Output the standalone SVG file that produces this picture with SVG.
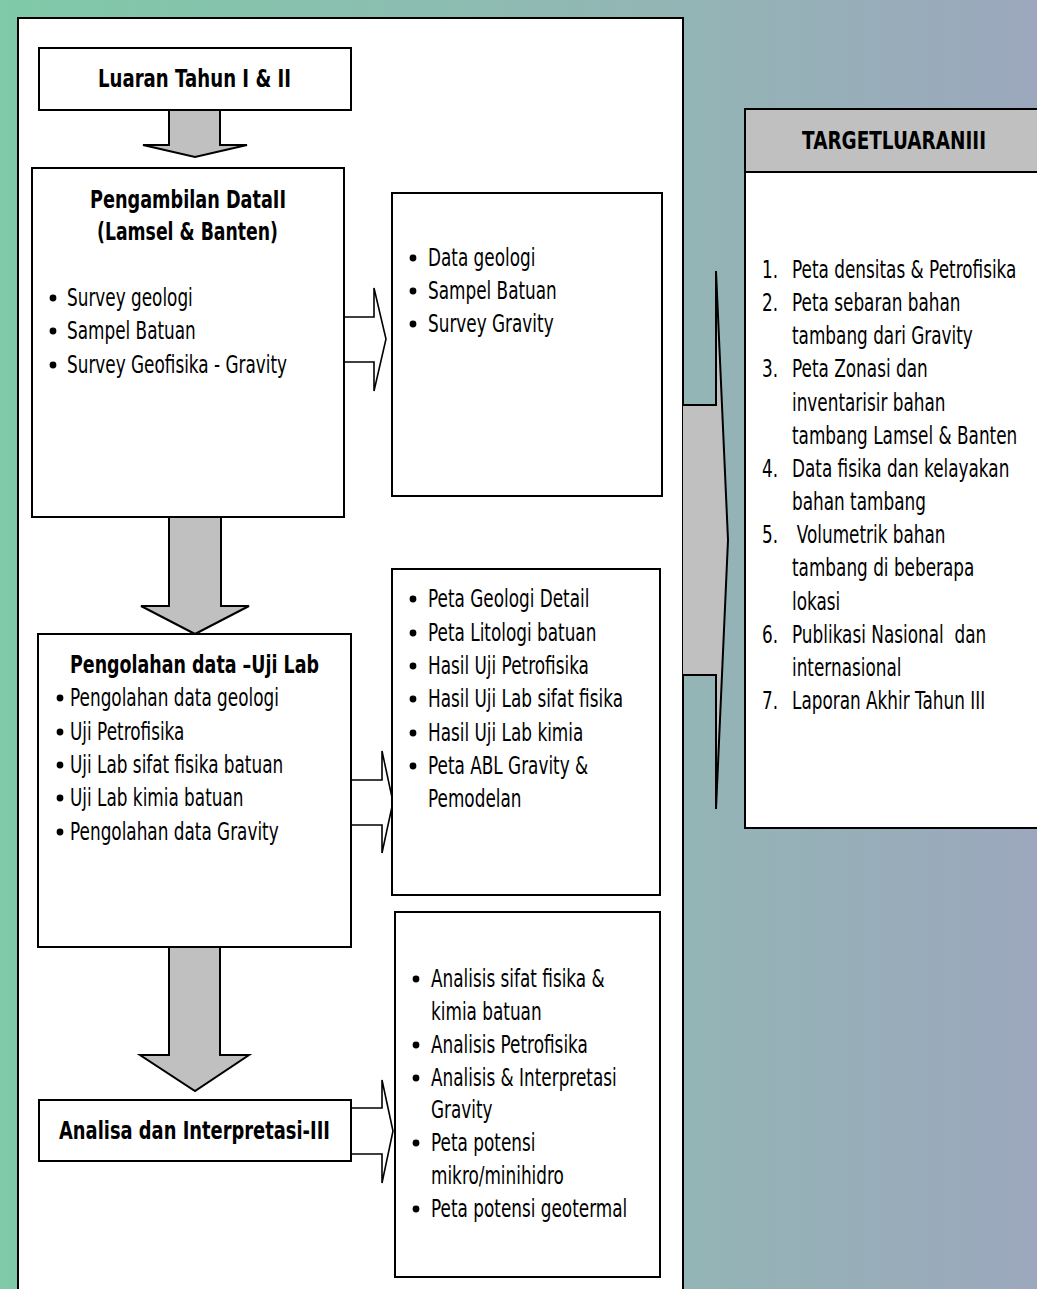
<svg xmlns="http://www.w3.org/2000/svg" width="1037" height="1289" viewBox="0 0 1037 1289">
<style>
.box{fill:#fff;stroke:#000;stroke-width:2}
.garrow{fill:#c0c0c0;stroke:#000;stroke-width:2;stroke-linejoin:miter}
.warrow{fill:#fff;stroke:#000;stroke-width:1.6}
.t{font-family:"DejaVu Sans","Liberation Sans",sans-serif;font-size:25px;fill:#000}
.b{font-family:"DejaVu Sans","Liberation Sans",sans-serif;font-size:25px;font-weight:bold;fill:#000;text-anchor:middle}
.dot{fill:#000}
</style>
<defs>
<linearGradient id="bg" x1="0" y1="0" x2="1" y2="0">
<stop offset="0" stop-color="#7fcaa8"/>
<stop offset="0.65" stop-color="#93b5b5"/>
<stop offset="1" stop-color="#9ca8bd"/>
</linearGradient>
</defs>
<rect x="0" y="0" width="1037" height="1289" fill="url(#bg)"/>
<rect x="18" y="18" width="665" height="1290" fill="#fff" stroke="#000" stroke-width="2"/>

<g id="connectors">
<polygon class="garrow" points="169,110 169,145 143,145 195,157 247,145 220,145 220,110"/>
<polygon class="garrow" points="169,517 169,606 141,606 195,634 249,606 221,606 221,517"/>
<polygon class="garrow" points="169,947 169,1055 140,1055 195,1091 249,1055 220,1055 220,947"/>
<path class="warrow" d="M344,317 H374 V288 L386,339 L374,391 V362 H344"/>
<path class="warrow" d="M351,780 H382 V751 L393,802 L382,853 V825 H351"/>
<path class="warrow" d="M351,1108 H382 V1080 L393,1131 L382,1183 V1154 H351"/>
<path d="M683,405 H716 V271 L728,540 L716,809 V675 H683" fill="#c0c0c0" stroke="#000" stroke-width="2"/>
</g>

<g id="luaran">
<rect class="box" x="39" y="48" width="312" height="62"/>
<text class="b" x="194.5" y="87" textLength="193" lengthAdjust="spacingAndGlyphs">Luaran Tahun I &amp; II</text>
</g>

<g id="pengambilan">
<rect class="box" x="32" y="168" width="312" height="349"/>
<text class="b" x="188" y="208" textLength="196" lengthAdjust="spacingAndGlyphs">Pengambilan DataII</text>
<text class="b" x="187.5" y="240" textLength="181" lengthAdjust="spacingAndGlyphs">(Lamsel &amp; Banten)</text>
<circle class="dot" cx="53" cy="298" r="3.4"/>
<circle class="dot" cx="53" cy="331" r="3.4"/>
<circle class="dot" cx="53" cy="365" r="3.4"/>
<g transform="translate(67 0) scale(0.675 1)">
<text class="t" x="0" y="306">Survey geologi</text>
<text class="t" x="0" y="339">Sampel Batuan</text>
<text class="t" x="0" y="373">Survey Geofisika - Gravity</text>
</g>
</g>

<g id="data-hasil">
<rect class="box" x="392" y="193" width="270" height="303"/>
<circle class="dot" cx="413" cy="258" r="3.4"/>
<circle class="dot" cx="413" cy="291" r="3.4"/>
<circle class="dot" cx="413" cy="324" r="3.4"/>
<g transform="translate(428 0) scale(0.675 1)">
<text class="t" x="0" y="266">Data geologi</text>
<text class="t" x="0" y="299">Sampel Batuan</text>
<text class="t" x="0" y="332">Survey Gravity</text>
</g>
</g>

<g id="pengolahan">
<rect class="box" x="38" y="634" width="313" height="313"/>
<text class="b" x="194.5" y="673" textLength="249" lengthAdjust="spacingAndGlyphs">Pengolahan data –Uji Lab</text>
<circle class="dot" cx="60" cy="698" r="3.4"/>
<circle class="dot" cx="60" cy="732" r="3.4"/>
<circle class="dot" cx="60" cy="765" r="3.4"/>
<circle class="dot" cx="60" cy="798" r="3.4"/>
<circle class="dot" cx="60" cy="832" r="3.4"/>
<g transform="translate(70 0) scale(0.675 1)">
<text class="t" x="0" y="706">Pengolahan data geologi</text>
<text class="t" x="0" y="740">Uji Petrofisika</text>
<text class="t" x="0" y="773">Uji Lab sifat fisika batuan</text>
<text class="t" x="0" y="806">Uji Lab kimia batuan</text>
<text class="t" x="0" y="840">Pengolahan data Gravity</text>
</g>
</g>

<g id="peta-hasil">
<rect class="box" x="392" y="569" width="268" height="326"/>
<circle class="dot" cx="413" cy="599" r="3.4"/>
<circle class="dot" cx="413" cy="633" r="3.4"/>
<circle class="dot" cx="413" cy="666" r="3.4"/>
<circle class="dot" cx="413" cy="699" r="3.4"/>
<circle class="dot" cx="413" cy="733" r="3.4"/>
<circle class="dot" cx="413" cy="766" r="3.4"/>
<g transform="translate(428 0) scale(0.675 1)">
<text class="t" x="0" y="607">Peta Geologi Detail</text>
<text class="t" x="0" y="641">Peta Litologi batuan</text>
<text class="t" x="0" y="674">Hasil Uji Petrofisika</text>
<text class="t" x="0" y="707">Hasil Uji Lab sifat fisika</text>
<text class="t" x="0" y="741">Hasil Uji Lab kimia</text>
<text class="t" x="0" y="774">Peta ABL Gravity &amp;</text>
<text class="t" x="0" y="807">Pemodelan</text>
</g>
</g>

<g id="analisa">
<rect class="box" x="39" y="1100" width="312" height="61"/>
<text class="b" x="194.5" y="1139" textLength="271" lengthAdjust="spacingAndGlyphs">Analisa dan Interpretasi-III</text>
</g>

<g id="analisis-hasil">
<rect class="box" x="395" y="912" width="265" height="365"/>
<circle class="dot" cx="416" cy="979" r="3.4"/>
<circle class="dot" cx="416" cy="1045" r="3.4"/>
<circle class="dot" cx="416" cy="1078" r="3.4"/>
<circle class="dot" cx="416" cy="1143" r="3.4"/>
<circle class="dot" cx="416" cy="1209" r="3.4"/>
<g transform="translate(431 0) scale(0.675 1)">
<text class="t" x="0" y="987">Analisis sifat fisika &amp;</text>
<text class="t" x="0" y="1020">kimia batuan</text>
<text class="t" x="0" y="1053">Analisis Petrofisika</text>
<text class="t" x="0" y="1086">Analisis &amp; Interpretasi</text>
<text class="t" x="0" y="1118">Gravity</text>
<text class="t" x="0" y="1151">Peta potensi</text>
<text class="t" x="0" y="1184">mikro/minihidro</text>
<text class="t" x="0" y="1217">Peta potensi geotermal</text>
</g>
</g>

<g id="target">
<rect x="745" y="109" width="294" height="719" fill="#fff" stroke="#000" stroke-width="2"/>
<rect x="745" y="109" width="294" height="63" fill="#c0c0c0" stroke="#000" stroke-width="2"/>
<text class="b" x="894" y="149" textLength="184" lengthAdjust="spacingAndGlyphs">TARGETLUARANIII</text>
<g transform="translate(762 0) scale(0.675 1)">
<text class="t" x="0" y="278">1.</text>
<text class="t" x="0" y="311">2.</text>
<text class="t" x="0" y="377">3.</text>
<text class="t" x="0" y="477">4.</text>
<text class="t" x="0" y="543">5.</text>
<text class="t" x="0" y="643">6.</text>
<text class="t" x="0" y="709">7.</text>
</g>
<g transform="translate(792 0) scale(0.675 1)">
<text class="t" x="0" y="278">Peta densitas &amp; Petrofisika</text>
<text class="t" x="0" y="311">Peta sebaran bahan</text>
<text class="t" x="0" y="344">tambang dari Gravity</text>
<text class="t" x="0" y="377">Peta Zonasi dan</text>
<text class="t" x="0" y="411">inventarisir bahan</text>
<text class="t" x="0" y="444">tambang Lamsel &amp; Banten</text>
<text class="t" x="0" y="477">Data fisika dan kelayakan</text>
<text class="t" x="0" y="510">bahan tambang</text>
<text class="t" x="7" y="543">Volumetrik bahan</text>
<text class="t" x="0" y="576">tambang di beberapa</text>
<text class="t" x="0" y="610">lokasi</text>
<text class="t" x="0" y="643" xml:space="preserve">Publikasi Nasional  dan</text>
<text class="t" x="0" y="676">internasional</text>
<text class="t" x="0" y="709">Laporan Akhir Tahun III</text>
</g>
</g>
</svg>
